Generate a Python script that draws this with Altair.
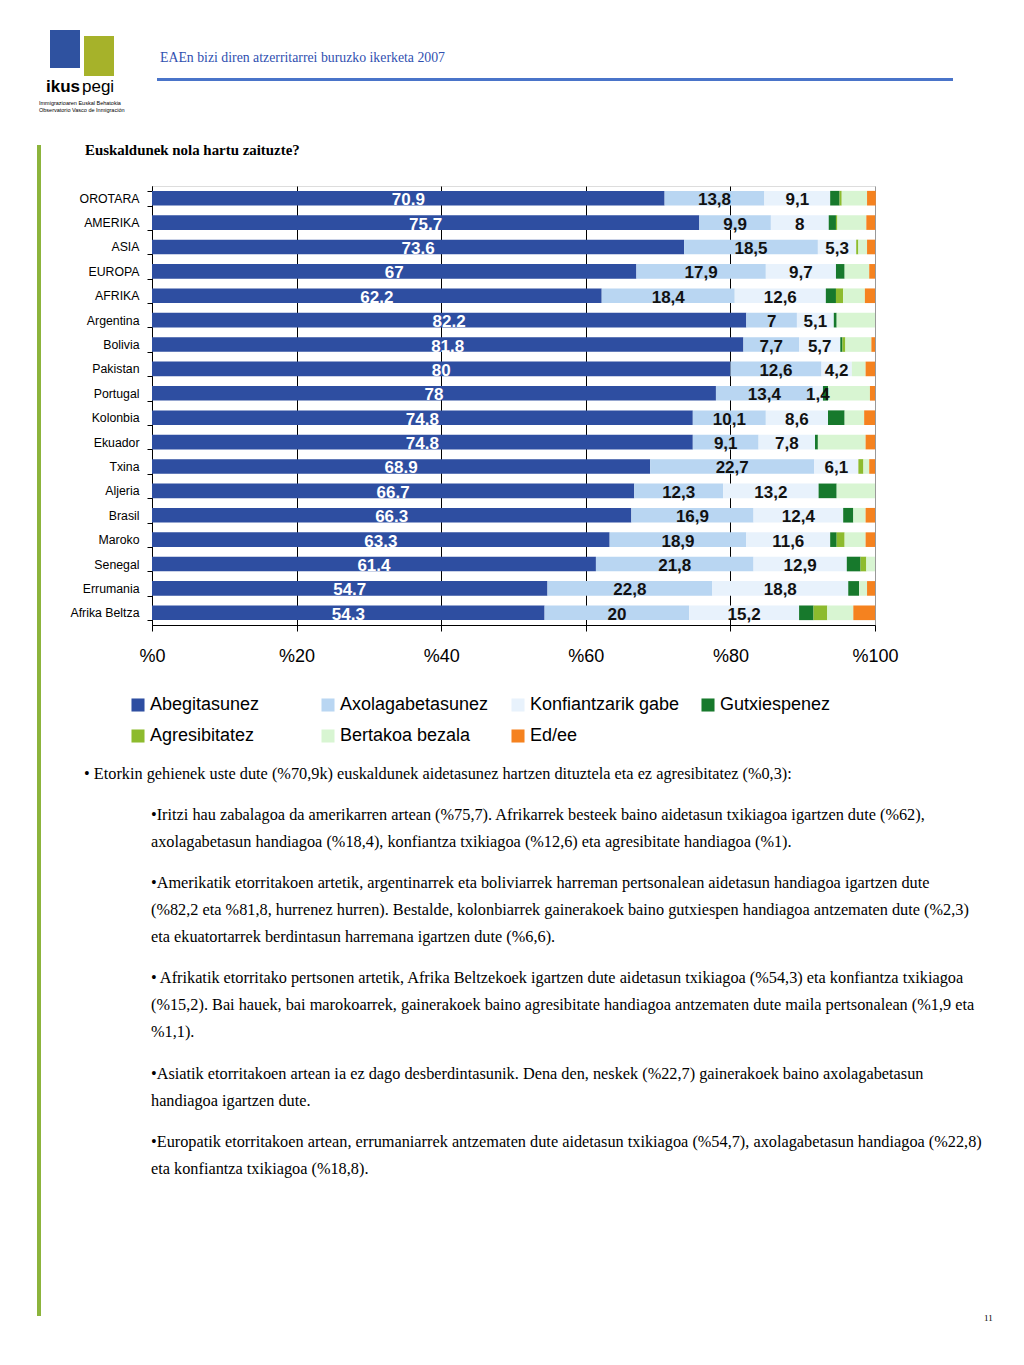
import altair as alt
import pandas as pd

cats = ["OROTARA", "AMERIKA", "ASIA", "EUROPA", "AFRIKA", "Argentina", "Bolivia",
        "Pakistan", "Portugal", "Kolonbia", "Ekuador", "Txina", "Aljeria", "Brasil",
        "Maroko", "Senegal", "Errumania", "Afrika Beltza"]
series = ["Abegitasunez", "Axolagabetasunez", "Konfiantzarik gabe", "Gutxiespenez",
          "Agresibitatez", "Bertakoa bezala", "Ed/ee"]
colors = ["#2E4EA1", "#B9D6F2", "#E8F2FC", "#17792C", "#8DBB2E", "#D8F5D2", "#F5821F"]

abegi = [70.9, 75.7, 73.6, 67, 62.2, 82.2, 81.8, 80, 78, 74.8, 74.8, 68.9, 66.7, 66.3, 63.3, 61.4, 54.7, 54.3]
axola = [13.8, 9.9, 18.5, 17.9, 18.4, 7, 7.7, 12.6, 13.4, 10.1, 9.1, 22.7, 12.3, 16.9, 18.9, 21.8, 22.8, 20]
konf = [9.1, 8, 5.3, 9.7, 12.6, 5.1, 5.7, 4.2, 1.4, 8.6, 7.8, 6.1, 13.2, 12.4, 11.6, 12.9, 18.8, 15.2]
gutx = [1.3, 1.0, 0, 1.2, 1.4, 0.4, 0.3, 0, 0.7, 2.3, 0.4, 0, 2.5, 1.4, 0.9, 1.9, 1.5, 2.0]
agres = [0.3, 0.2, 0.3, 0, 1.0, 0, 0.4, 0, 0, 0, 0, 0.7, 0, 0, 1.1, 0.8, 0, 1.9]
bert = [3.5, 4.0, 1.2, 3.4, 3.0, 5.3, 3.6, 1.9, 5.8, 2.7, 6.6, 0.8, 5.3, 1.7, 2.9, 1.2, 1.1, 3.6]
ed = [1.2, 1.2, 1.1, 0.8, 1.4, 0, 0.5, 1.3, 0.7, 1.5, 1.3, 0.8, 0, 1.3, 1.3, 0, 1.1, 3.0]

header = "EAEn bizi diren atzerritarrei buruzko ikerketa 2007"
chart_title = "Euskaldunek nola hartu zaituzte?"
body = [
    "• Etorkin gehienek uste dute (%70,9k) euskaldunek aidetasunez hartzen dituztela eta ez agresibitatez (%0,3):",
    "•Iritzi hau zabalagoa da amerikarren artean (%75,7). Afrikarrek besteek baino aidetasun txikiagoa igartzen dute (%62),",
    "axolagabetasun handiagoa (%18,4), konfiantza txikiagoa (%12,6) eta agresibitate handiagoa (%1).",
    "•Amerikatik etorritakoen artetik, argentinarrek eta boliviarrek harreman pertsonalean aidetasun handiagoa igartzen dute",
    "(%82,2 eta %81,8, hurrenez hurren). Bestalde, kolonbiarrek gainerakoek baino gutxiespen handiagoa antzematen dute (%2,3)",
    "eta ekuatortarrek berdintasun harremana igartzen dute (%6,6).",
    "• Afrikatik etorritako pertsonen artetik, Afrika Beltzekoek igartzen dute aidetasun txikiagoa (%54,3) eta konfiantza txikiagoa",
    "(%15,2). Bai hauek, bai marokoarrek, gainerakoek baino agresibitate handiagoa antzematen dute maila pertsonalean (%1,9 eta",
    "%1,1).",
    "•Asiatik etorritakoen artean ia ez dago desberdintasunik. Dena den, neskek (%22,7) gainerakoek baino axolagabetasun",
    "handiagoa igartzen dute.",
    "•Europatik etorritakoen artean, errumaniarrek antzematen dute aidetasun txikiagoa (%54,7), axolagabetasun handiagoa (%22,8)",
    "eta konfiantza txikiagoa (%18,8).",
]

vals = [abegi, axola, konf, gutx, agres, bert, ed]
rows = []
for i, c in enumerate(cats):
    for j, s in enumerate(series):
        rows.append({"cat": c, "series": s, "ord": j, "value": vals[j][i]})
df = pd.DataFrame(rows)

# plot origin in page coordinates
OX, OY = 152, 186
W, H = 723, 439

def px(x):
    return x - OX

def py(y):
    return y - OY

x_axis = alt.Axis(values=[0, 20, 40, 60, 80, 100], labelExpr="'%' + datum.value",
                  labelFont="Liberation Sans", labelFontSize=18, labelColor="black",
                  labelPadding=16, labelFlush=False, tickSize=6, tickColor="black", domainColor="black",
                  grid=True, gridColor={"condition": {"test": "datum.value === 100", "value": "#999999"}, "value": "black"},
                  gridWidth=1, title=None)
y_axis = alt.Axis(title=None, labelFont="Liberation Sans", labelFontSize=12.3, labelColor="black",
                  tickBand="extent", tickSize=5, tickColor="black", domainColor="black",
                  labelPadding=8, grid=False)
y_enc = alt.Y("cat:N", sort=cats, scale=alt.Scale(paddingInner=0.4, paddingOuter=0.2), axis=y_axis)
x_scale = alt.Scale(domain=[0, 100], nice=False)

base = alt.Chart(df).transform_stack(
    stack="value", groupby=["cat"], as_=["x0", "x1"], sort=[alt.SortField("ord", order="ascending")]
)

bars = base.mark_bar().encode(
    x=alt.X("x0:Q", scale=x_scale, axis=x_axis),
    x2="x1:Q",
    y=y_enc,
    color=alt.Color("series:N", scale=alt.Scale(domain=series, range=colors),
                    legend=alt.Legend(title=None, orient="none", legendX=-23, legendY=510,
                                      direction="horizontal",
                                      columns=4, gridAlign="all", columnPadding=19, rowPadding=13,
                                      symbolType="square", symbolSize=170, symbolStrokeWidth=0,
                                      labelFont="Liberation Sans", labelFontSize=18, labelColor="black",
                                      labelOffset=3, labelLimit=300)),
)

labels = base.transform_filter("datum.ord <= 2 && datum.value > 0").transform_calculate(
    mid="(datum.x0 + datum.x1) / 2",
    lab="datum.ord == 0 ? toString(datum.value) : replace(toString(datum.value), '.', ',')",
).mark_text(font="Liberation Sans", fontWeight="bold", fontSize=17, baseline="middle", dy=2).encode(
    x=alt.X("mid:Q", scale=x_scale, axis=x_axis),
    y=y_enc,
    text="lab:N",
    color=alt.condition("datum.ord == 0", alt.value("white"), alt.value("#111111")),
)

one = pd.DataFrame({"k": [0]})
deco = []

def rect(x1, x2, y1, y2, color):
    return alt.Chart(one).mark_rect(color=color).encode(
        x=alt.value(px(x1)), x2=alt.value(px(x2)), y=alt.value(py(y1)), y2=alt.value(py(y2)))

def text(x, y, t, **kw):
    props = dict(align="left", baseline="middle", font="Liberation Serif", fontSize=16.3, color="black")
    props.update(kw)
    return alt.Chart(one).mark_text(**props).encode(
        x=alt.value(px(x)), y=alt.value(py(y)), text=alt.value(t))

# logo (approximation)
deco.append(rect(50, 80, 30, 68, "#2F52A0"))
deco.append(rect(84, 114, 36, 76, "#A6B22A"))
deco.append(text(46, 87, "ikus", font="Liberation Sans", fontWeight="bold", fontSize=17))
deco.append(text(82, 87, "pegi", font="Liberation Sans", fontSize=17))
deco.append(text(39, 103, "Immigrazioaren Euskal Behatokia", font="Liberation Sans", fontSize=5.5))
deco.append(text(39, 110, "Observatorio Vasco de Inmigración", font="Liberation Sans", fontSize=5.5))
# header
deco.append(text(160, 58, header, fontSize=13.8, color="#3050B0"))
deco.append(rect(157, 953, 78, 81, "#4A74C9"))
# green vertical line
deco.append(rect(37, 41, 145, 1316, "#8CB43C"))
# chart title
deco.append(text(85, 151, chart_title, fontSize=14.9, fontWeight="bold"))
# body text
line_pos = [(84, 774), (151, 815), (151, 842), (151, 883), (151, 910), (151, 937), (151, 978),
            (151, 1005), (151, 1032), (151, 1074), (151, 1101), (151, 1142), (151, 1169)]
for (lx, ly), t in zip(line_pos, body):
    deco.append(text(lx, ly, t))
deco.append(text(984, 1318, "11", fontSize=9))

chart = alt.layer(bars, labels, *deco).properties(
    width=W, height=H,
    padding={"left": OX - 8, "top": OY - 8, "right": 130, "bottom": 720},
    autosize=alt.AutoSizeParams(type="none"),
).configure_view(stroke="#999999", strokeWidth=1).configure(background="white")

chart.save("out.html", embed_options={"renderer": "svg", "actions": False})
